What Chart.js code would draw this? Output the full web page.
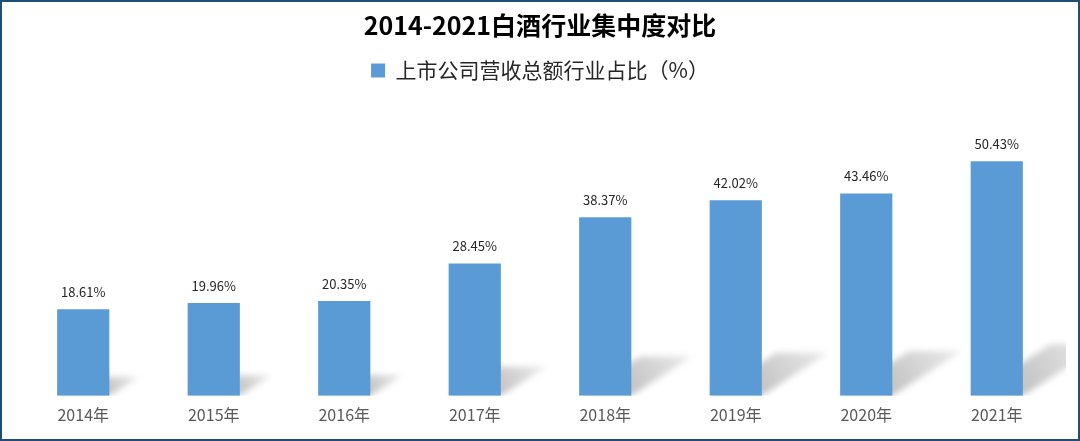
<!DOCTYPE html>
<html>
<head>
<meta charset="utf-8">
<script src="https://cdn.jsdelivr.net/npm/chart.js@4.4.0/dist/chart.umd.min.js"></script>
<style>
  html, body { margin: 0; padding: 0; background: #fff; }
  #wrap {
    width: 1080px; height: 441px; box-sizing: border-box;
    border: 2px solid #1f4e79; position: relative;
  }
  canvas { display: block; }
</style>
</head>
<body>
<div id="wrap"><canvas id="canvas" width="1076" height="437"></canvas></div>
<script>
var years = ['2014年', '2015年', '2016年', '2017年', '2018年', '2019年', '2020年', '2021年'];
var shares = [18.61, 19.96, 20.35, 28.45, 38.37, 42.02, 43.46, 50.43];

var font = '"Noto Sans CJK SC", "Noto Sans", sans-serif';

// gray floor shadow behind each bar
var barShadow = {
    id: 'barShadow',
    beforeDatasetsDraw: function (chart) {
        var ctx = chart.ctx;
        var area = chart.chartArea;
        var bars = chart.getDatasetMeta(0).data;
        ctx.save();
        ctx.beginPath();
        ctx.rect(area.left, area.top, area.right - area.left + 4, area.bottom - area.top);
        ctx.clip();
        ctx.filter = 'blur(3px)';
        bars.forEach(function (b) {
            var h = b.base - b.y;
            var l = b.x - b.width / 2, r = b.x + b.width / 2;
            var dx = h * 0.34, dy = -h * 0.22;
            var g = ctx.createLinearGradient(r, b.base, r + dx, b.base + dy);
            g.addColorStop(0, 'rgba(0,0,0,0.24)');
            g.addColorStop(1, 'rgba(0,0,0,0.08)');
            ctx.fillStyle = g;
            ctx.beginPath();
            ctx.moveTo(l, b.base);
            ctx.lineTo(r, b.base);
            ctx.lineTo(r + dx, b.base + dy);
            ctx.lineTo(l + dx, b.base + dy);
            ctx.closePath();
            ctx.fill();
        });
        ctx.restore();
    }
};

// value labels above bars
var valueLabels = {
    id: 'valueLabels',
    afterDatasetsDraw: function (chart) {
        var ctx = chart.ctx;
        var bars = chart.getDatasetMeta(0).data;
        ctx.save();
        ctx.font = '13px ' + font;
        ctx.fillStyle = '#262626';
        ctx.textAlign = 'center';
        ctx.textBaseline = 'middle';
        bars.forEach(function (b, i) {
            ctx.fillText(shares[i].toFixed(2) + '%', b.x, b.y - 17);
        });
        ctx.restore();
    }
};

var ctx = document.getElementById('canvas').getContext('2d');
var chart = new Chart(ctx, {
    type: 'bar',
    data: {
        labels: years,
        datasets: [{
            label: '上市公司营收总额行业占比（%）',
            data: shares,
            backgroundColor: '#5b9bd5',
            borderWidth: 0,
            barPercentage: 0.4,
            categoryPercentage: 1.0
        }]
    },
    options: {
        responsive: false,
        animation: false,
        layout: { padding: { left: 16, right: 16, top: 4, bottom: 12 } },
        plugins: {
            title: {
                display: true,
                text: '2014-2021白酒行业集中度对比',
                color: '#000',
                font: { family: font, size: 25, weight: 'bold' },
                padding: { top: 4, bottom: 10 }
            },
            legend: {
                display: true,
                labels: {
                    color: '#262626',
                    font: { family: font, size: 21 },
                    boxWidth: 14,
                    boxHeight: 14,
                    padding: 10
                }
            },
            tooltip: { enabled: false }
        },
        scales: {
            x: {
                grid: { display: false },
                border: { display: false },
                ticks: { color: '#595959', font: { family: font, size: 16 }, padding: 2 }
            },
            y: {
                display: false,
                min: 0,
                max: 65.5
            }
        }
    },
    plugins: [barShadow, valueLabels]
});
</script>
</body>
</html>
